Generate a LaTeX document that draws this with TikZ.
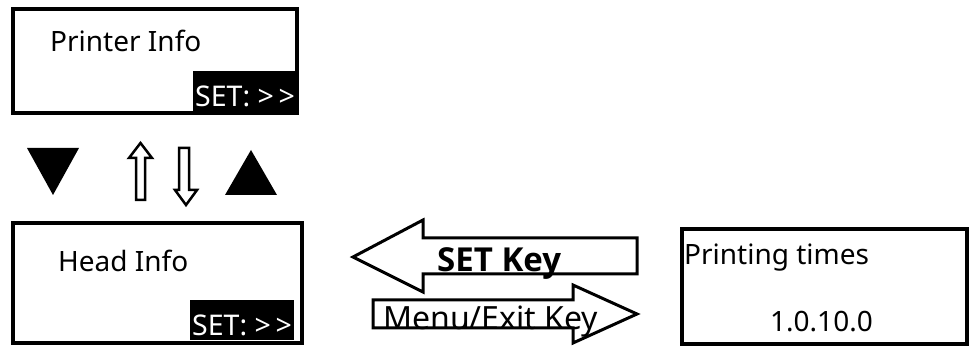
\documentclass[tikz,border=0pt]{standalone}
\usepackage{fontspec}
\setmainfont{Noto Sans}
\newfontfamily\keyfont{Open Sans}
\begin{document}
\begin{tikzpicture}[x=1pt,y=-1pt,
  box/.style={draw=black,line width=3.5pt},
  blockarrow/.style={draw=black,line width=3pt,fill=white,line join=miter},
  lbl/.style={anchor=base west,inner sep=0pt,font=\fontsize{28}{30}\selectfont},
  setlbl/.style={anchor=base west,inner sep=0pt,text=white,font=\fontsize{28.5}{30}\selectfont},
  blackbar/.style={fill=black}]
\useasboundingbox (0,0) rectangle (972,347);
% top box
\draw[box] (13,9) rectangle (297,113);
\fill[blackbar] (193,71) rectangle (297,112);
\node[lbl] (printer) at (50,52) {Printer Info};
\node[setlbl] (set1) at (195,107) {SET: >\,>};
% triangles and small arrows
\fill (27,148) -- (79,148) -- (53,195) -- cycle;
\fill (225,195) -- (277,195) -- (251,150) -- cycle;
\draw[blockarrow,line width=2.5pt] (140.5,143) -- (152,158) -- (145,158) -- (145,200) -- (136,200) -- (136,158) -- (129,158) -- cycle;
\draw[blockarrow,line width=2.5pt] (186,205) -- (197,190) -- (189,190) -- (189,148) -- (179,148) -- (179,190) -- (175,190) -- cycle;
% bottom-left box
\draw[box] (13,223) rectangle (302,343);
\fill[blackbar] (190,300) rectangle (294,340);
\node[lbl] (head) at (58,272) {Head Info};
\node[setlbl] (set2) at (192,335) {SET: >\,>};
% right box
\draw[box] (682,229) rectangle (967,344);
\node[lbl] (times) at (684,265) {Printing times};
\node[lbl] (ver) at (770,332) {1.0.10.0};
% block arrows
\draw[blockarrow] (353,257) -- (423,220) -- (423,238) -- (637,238) -- (637,274) -- (423,274) -- (423,292) -- cycle;
\node[lbl,font=\keyfont\bfseries\fontsize{33}{34}\selectfont] (setkey) at (437,272) {SET Key};
\draw[blockarrow] (637,314) -- (573,285) -- (573,300) -- (373,300) -- (373,328) -- (573,328) -- (573,343) -- cycle;
\node[lbl,font=\fontsize{32}{33}\selectfont] (menukey) at (383,330) {Menu/Exit Key};
\end{tikzpicture}
\end{document}
